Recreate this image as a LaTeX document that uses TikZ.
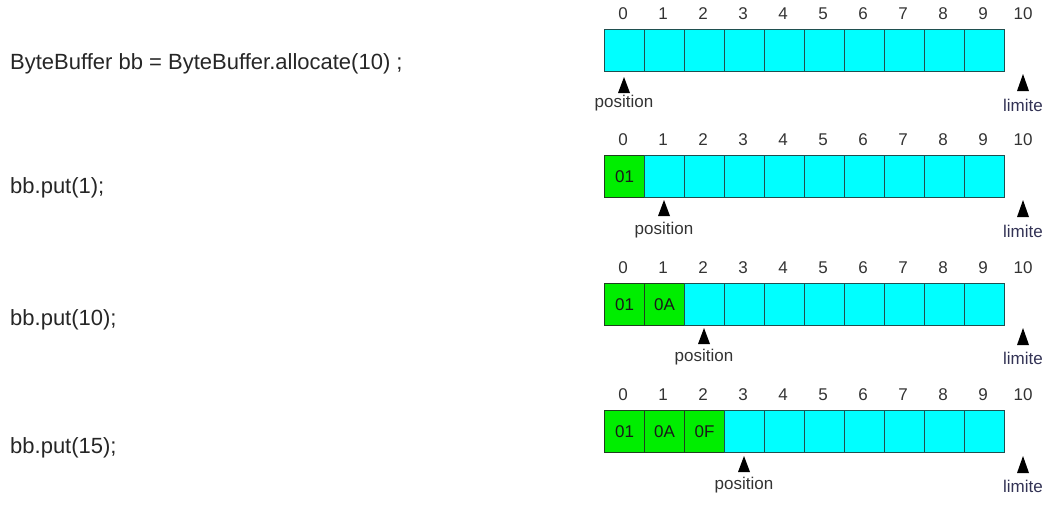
\documentclass[tikz,border=0pt]{standalone}
\usepackage{fontspec}
\setmainfont{Liberation Sans}
\definecolor{cellcyan}{HTML}{00FFFF}
\definecolor{cellgreen}{HTML}{00EE00}
\definecolor{cyanedge}{HTML}{1F4F4F}
\definecolor{greenedge}{HTML}{1F3F1F}
\definecolor{lbl}{HTML}{333333}
\definecolor{lim}{HTML}{333355}
\begin{document}
\begin{tikzpicture}[x=1pt,y=-1pt,
  emptycell/.style={draw=cyanedge,fill=cellcyan,line width=1pt,minimum width=40pt,minimum height=42pt,inner sep=0pt,anchor=north west},
  fullcell/.style={draw=greenedge,fill=cellgreen,line width=1pt,minimum width=40pt,minimum height=42pt,inner sep=0pt,anchor=north west},
  val/.style={font=\fontsize{17}{17}\selectfont,text=black!90,inner sep=0pt},
  idx/.style={font=\fontsize{17}{17}\selectfont,text=lbl,inner sep=0pt},
  code/.style={font=\fontsize{22}{22}\selectfont,text=black!85,anchor=west,inner sep=0pt},
  ptr/.style={fill=black,draw=none},
  ptrlbl/.style={font=\fontsize{17}{17}\selectfont,text=lbl,inner sep=0pt},
  limlbl/.style={font=\fontsize{17}{17}\selectfont,text=lim,inner sep=0pt}]
\useasboundingbox (0,0) rectangle (1060,504);
% code lines
\node[code] (c1) at (10,64) {ByteBuffer bb = ByteBuffer.allocate(10) ;};
\node[code] (c2) at (10,188) {bb.put(1);};
\node[code] (c3) at (10,320) {bb.put(10);};
\node[code] (c4) at (10,448) {bb.put(15);};
% rows
\foreach \r/\top/\nfull/\ptrtip/\ptrtxt/\limtip/\limtxt in {1/29/0/77/103/74/105, 2/155/1/200/230/200/231, 3/283/2/328/357/328/358, 4/410/3/456/485/456/486}{
  \foreach \i in {0,...,9}{
    \pgfmathtruncatemacro{\x}{604+40*\i}
    \ifnum\i<\nfull
      \node[fullcell] (r\r c\i) at (\x,\top) {};
    \else
      \node[emptycell] (r\r c\i) at (\x,\top) {};
    \fi
  }
  \foreach \i in {0,...,10}{
    \pgfmathtruncatemacro{\x}{623+40*\i}
    \node[idx] (r\r i\i) at (\x,\top-15) {\i};
  }
  % position pointer
  \pgfmathtruncatemacro{\px}{624+40*\nfull}
  \coordinate (r\r p) at (\px,\ptrtip);
  \fill[ptr] (r\r p) -- ++(-6,16) -- ++(12,0) -- cycle;
  \node[ptrlbl] (r\r pl) at (\px,\ptrtxt) {position};
  % limit pointer
  \coordinate (r\r l) at (1023,\limtip);
  \fill[ptr] (r\r l) -- ++(-6,17) -- ++(12,0) -- cycle;
  \node[limlbl] (r\r ll) at (1023,\limtxt) {limite};
}
% cell contents
\node[val] at (r2c0) {01};
\node[val] at (r3c0) {01};
\node[val] at (r3c1) {0A};
\node[val] at (r4c0) {01};
\node[val] at (r4c1) {0A};
\node[val] at (r4c2) {0F};
\end{tikzpicture}
\end{document}
